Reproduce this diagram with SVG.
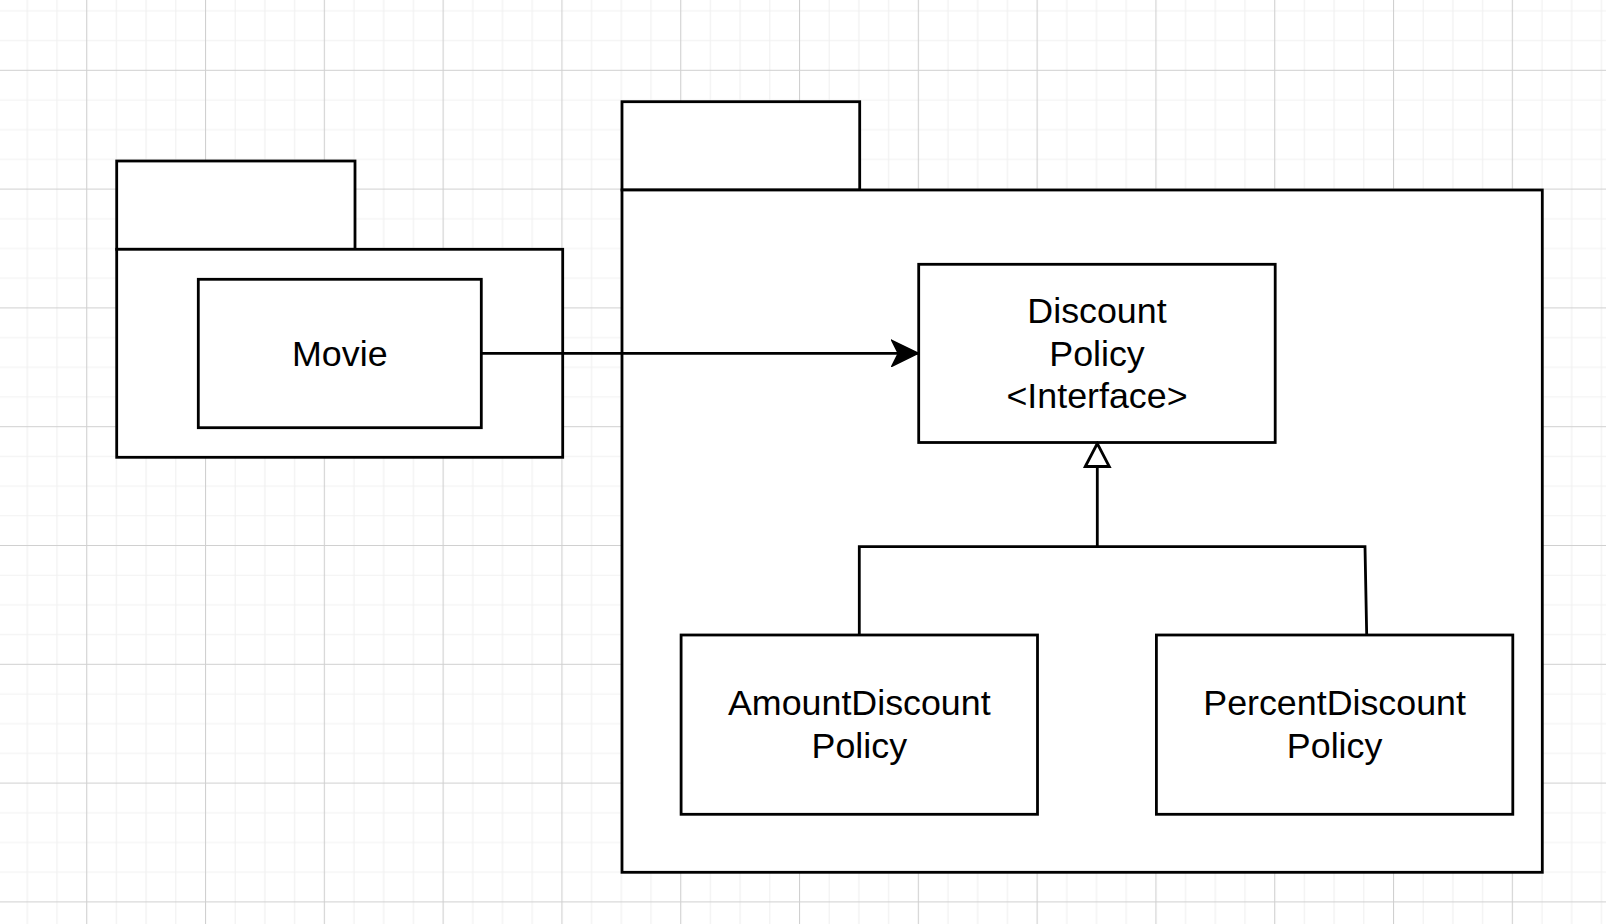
<svg xmlns="http://www.w3.org/2000/svg" width="1606" height="924" viewBox="0 0 1606 924">
<defs>
<pattern id="grid" patternUnits="userSpaceOnUse" x="86.2" y="69.8" width="118.8" height="118.8">
<path d="M30.2 0V118.8M59.9 0V118.8M89.6 0V118.8M0 30.2H118.8M0 59.9H118.8M0 89.6H118.8" stroke="#f1f1f1" stroke-width="1.2" fill="none"/>
<path d="M0.5 0V118.8M0 0.5H118.8" stroke="#d0d0d0" stroke-width="1.2" fill="none"/>
</pattern>
<marker id="arrow" markerUnits="userSpaceOnUse" viewBox="0 0 28 28" refX="27" refY="14" markerWidth="28" markerHeight="28" orient="auto">
<path d="M0.5 1 L27 14 L0.5 27 L7 14 Z" fill="#000" stroke="#000" stroke-width="1.5" stroke-linejoin="miter"/>
</marker>
<marker id="tri" markerUnits="userSpaceOnUse" viewBox="0 0 30 30" refX="27" refY="15" markerWidth="30" markerHeight="30" orient="auto">
<path d="M4 3 L27 15 L4 27 Z" fill="#fff" stroke="#000" stroke-width="2.8"/>
</marker>
</defs>
<style>
.shape{fill:#fff;stroke:#000;stroke-width:2.8}
.edge{fill:none;stroke:#000;stroke-width:2.8}
.lbl{font-family:"Liberation Sans",Arial,Helvetica,sans-serif;font-size:35.8px;fill:#000;text-anchor:middle}
</style>
<rect width="1606" height="924" fill="#fff"/>
<rect width="1606" height="924" fill="url(#grid)"/>
<g id="pkg-left">
<rect class="shape" x="116.7" y="161" width="238.3" height="88.3"/>
<rect class="shape" x="116.7" y="249.3" width="446" height="208"/>
</g>
<g id="pkg-right">
<rect class="shape" x="622" y="101.7" width="237.7" height="88.3"/>
<rect class="shape" x="622" y="190" width="920.3" height="682.3"/>
</g>
<g id="movie">
<rect class="shape" x="198.3" y="279.3" width="283" height="148.4"/>
<text class="lbl" x="339.8" y="365.5">Movie</text>
</g>
<g id="discount-policy">
<rect class="shape" x="918.7" y="264.3" width="356.5" height="178.2"/>
<text class="lbl" x="1097" y="322.5">Discount</text>
<text class="lbl" x="1097" y="365.5">Policy</text>
<text class="lbl" x="1097" y="408">&lt;Interface&gt;</text>
</g>
<g id="amount-discount-policy">
<rect class="shape" x="681.1" y="635" width="356.4" height="179.3"/>
<text class="lbl" x="859.3" y="715">AmountDiscount</text>
<text class="lbl" x="859.3" y="758">Policy</text>
</g>
<g id="percent-discount-policy">
<rect class="shape" x="1156.4" y="635" width="356.4" height="179.3"/>
<text class="lbl" x="1334.6" y="715">PercentDiscount</text>
<text class="lbl" x="1334.6" y="758">Policy</text>
</g>
<g id="connectors">
<path class="edge" d="M481.3 353.3H918.3" marker-end="url(#arrow)"/>
<path class="edge" d="M859.3 635V546.7H1365L1366.7 635"/>
<path class="edge" d="M1097.3 546.7V443.5" marker-end="url(#tri)"/>
</g>
</svg>
